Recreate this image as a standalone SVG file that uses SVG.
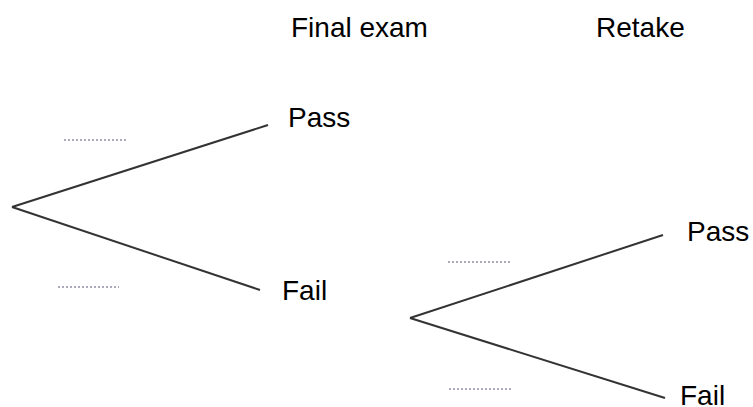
<svg xmlns="http://www.w3.org/2000/svg" width="753" height="407" viewBox="0 0 753 407">
<style>
.t{font-family:"Liberation Sans",Arial,sans-serif;font-size:28px;fill:#000}
.b{stroke:#333;stroke-width:2;fill:none}
.d{stroke:#9090a8;stroke-width:1.5;stroke-dasharray:2 2;fill:none}
</style>
<rect width="753" height="407" fill="#fff"/>
<g id="headers">
<text class="t" x="291" y="37">Final exam</text>
<text class="t" x="596" y="37">Retake</text>
</g>
<g id="connectors">
<line class="b" x1="12" y1="207" x2="268" y2="125"/>
<line class="b" x1="12" y1="207" x2="260" y2="290"/>
<line class="b" x1="410" y1="318" x2="663" y2="235"/>
<line class="b" x1="410" y1="318" x2="665" y2="398"/>
</g>
<g id="blanks">
<line class="d" x1="64" y1="140" x2="126" y2="140"/>
<line class="d" x1="58" y1="287" x2="119" y2="287"/>
<line class="d" x1="448" y1="262" x2="510" y2="262"/>
<line class="d" x1="449" y1="389" x2="511" y2="389"/>
</g>
<g id="pass1"><text class="t" x="288" y="127">Pass</text></g>
<g id="fail1"><text class="t" x="282" y="300">Fail</text></g>
<g id="pass2"><text class="t" x="687" y="241">Pass</text></g>
<g id="fail2"><text class="t" x="680" y="405">Fail</text></g>
</svg>
